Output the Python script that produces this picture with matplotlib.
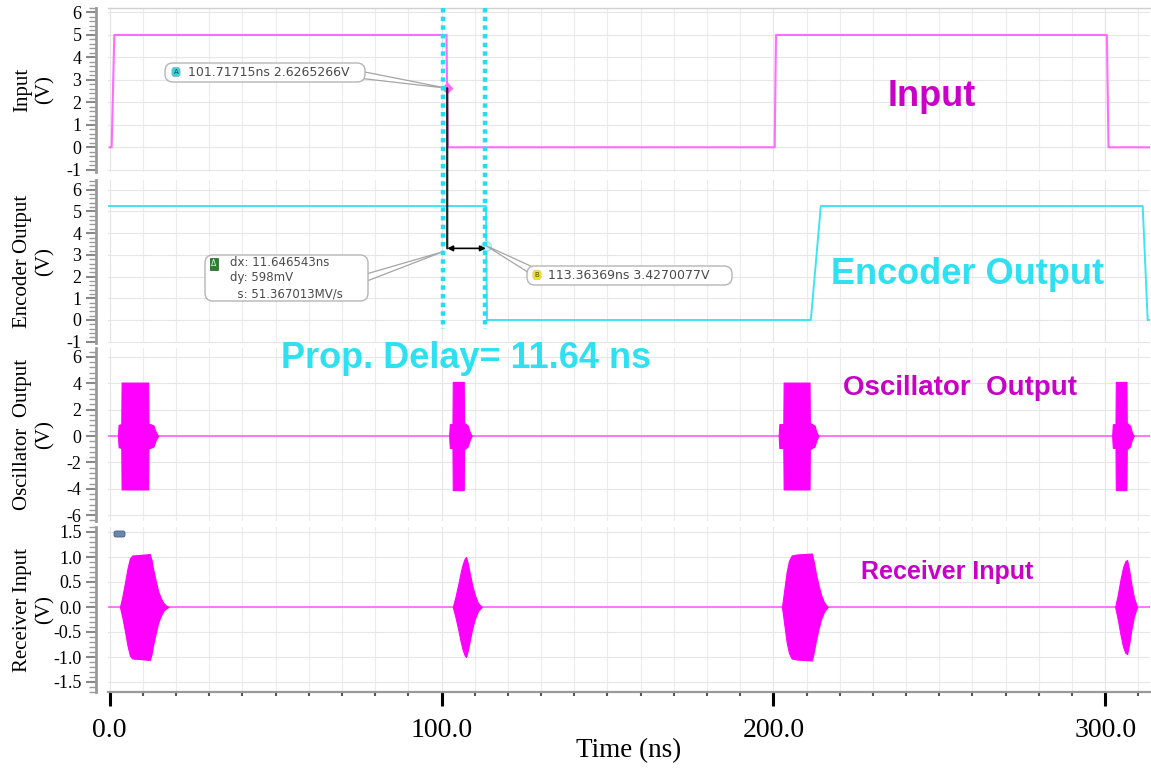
import matplotlib
matplotlib.use("Agg")
import matplotlib.pyplot as plt
from matplotlib.ticker import MultipleLocator, FormatStrFormatter
from matplotlib.patches import ConnectionPatch, FancyBboxPatch
from matplotlib.lines import Line2D
import matplotlib.transforms as mtransforms

plt.rcParams["font.family"] = ["Liberation Serif", "DejaVu Serif"]

# ---------------- data ----------------
x_ticks = [0.0, 100.0, 200.0, 300.0]

input_t = [0.0, 0.6, 1.4, 101.5, 101.9, 200.4, 200.8, 300.5, 301.0, 314.0]
input_v = [0.0, 0.0, 5.0, 5.0, 0.0, 0.0, 5.0, 5.0, 0.0, 0.0]

enc_t = [-1.0, 113.4, 113.7, 211.3, 214.3, 311.3, 312.8, 314.0]
enc_v = [5.25, 5.25, 0.0, 0.0, 5.25, 5.25, 0.0, 0.0]

osc_baseline = 0.0
osc_b1_t = [2.5, 2.7, 3.5, 3.6, 11.6, 11.7, 13.2, 13.9, 14.6]
osc_b1_a = [0.0, 0.85, 0.9, 4.05, 4.05, 0.95, 0.8, 0.3, 0.0]
osc_b2_t = [102.3, 102.5, 103.3, 103.4, 106.7, 106.8, 107.9, 108.5, 109.1]
osc_b2_a = [0.0, 0.9, 0.9, 4.1, 4.1, 1.0, 0.8, 0.3, 0.0]
osc_b3_t = [201.6, 201.8, 203.0, 203.1, 210.9, 211.0, 212.4, 213.0, 213.6]
osc_b3_a = [0.0, 0.9, 0.9, 4.05, 4.05, 1.0, 0.8, 0.3, 0.0]
osc_b4_t = [302.1, 302.3, 303.1, 303.2, 306.4, 306.5, 307.5, 308.0, 308.6]
osc_b4_a = [0.0, 0.9, 0.9, 4.1, 4.1, 1.0, 0.8, 0.3, 0.0]

rx_baseline = 0.0
rx_b1_t = [3.1, 3.8, 4.6, 5.4, 6.1, 6.8, 9.0, 12.1, 12.6, 13.1, 13.9, 14.6, 15.4, 16.2, 17.0, 17.7]
rx_b1_a = [0.0, 0.2, 0.48, 0.78, 0.97, 1.03, 1.04, 1.06, 0.95, 0.76, 0.52, 0.32, 0.18, 0.08, 0.03, 0.0]
rx_b2_t = [103.4, 104.2, 105.1, 105.8, 106.4, 107.0, 107.4, 107.9, 108.6, 109.3, 110.1, 111.0, 112.1]
rx_b2_a = [0.0, 0.2, 0.47, 0.7, 0.86, 0.97, 1.0, 0.88, 0.65, 0.42, 0.23, 0.08, 0.0]
rx_b3_t = [202.6, 203.3, 204.0, 204.7, 205.5, 207.0, 211.6, 212.2, 212.8, 213.6, 214.4, 215.3, 216.4]
rx_b3_a = [0.0, 0.35, 0.7, 0.92, 1.03, 1.05, 1.07, 0.9, 0.68, 0.44, 0.24, 0.09, 0.0]
rx_b4_t = [303.0, 303.8, 304.6, 305.4, 306.1, 306.6, 307.2, 307.9, 308.7, 309.6]
rx_b4_a = [0.0, 0.25, 0.55, 0.8, 0.92, 0.94, 0.75, 0.45, 0.18, 0.0]

marker_a = (101.71715, 2.6265266)
marker_b = (113.36369, 3.4270077)
delta_arrow_v = 3.3
cursor_t = [100.5, 113.2]

label_a = "101.71715ns 2.6265266V"
label_b = "113.36369ns 3.4270077V"
label_delta = "dx: 11.646543ns\ndy: 598mV\n  s: 51.367013MV/s"

# ---------------- styling ----------------
W, H = 1151, 771
PINK_LINE = "#ff6cff"
MAGENTA = "#ff00ff"
TXT_MAG = "#c800c8"
CYAN = "#3fe3f2"
CYAN_TXT = "#2ee0f0"

fig = plt.figure(figsize=(W / 100, H / 100), dpi=100)
# transform working in image pixels measured from the top-left corner
PIX = mtransforms.Affine2D().scale(1 / 100.0, -1 / 100.0).translate(0, H / 100.0) + fig.dpi_scale_trans


def px_rect(top, bottom, left=108, right=1150):
    return [left / W, (H - bottom) / H, (right - left) / W, (bottom - top) / H]


ax1 = fig.add_axes(px_rect(8, 172))
ax2 = fig.add_axes(px_rect(180, 343), sharex=ax1)
ax3 = fig.add_axes(px_rect(348, 521), sharex=ax1)
ax4 = fig.add_axes(px_rect(527, 692), sharex=ax1)
axes = [ax1, ax2, ax3, ax4]

ax1.set_ylim(-1.1, 6.2)
ax2.set_ylim(-1.06, 6.45)
ax3.set_ylim(-6.44, 6.67)
ax4.set_ylim(-1.7, 1.6)
ax1.set_xlim(-0.5, 313.5)

ylabels = ["Input\n(V)", "Encoder Output\n(V)", "Oscillator  Output\n(V)", "Receiver Input\n(V)"]
ymin = [0.2, 0.2, 0.4, 0.1]
yfmt = ["%d", "%d", "%d", "%.1f"]
yticks_list = [
    [-1, 0, 1, 2, 3, 4, 5, 6],
    [-1, 0, 1, 2, 3, 4, 5, 6],
    [-6, -4, -2, 0, 2, 4, 6],
    [-1.5, -1.0, -0.5, 0.0, 0.5, 1.0, 1.5],
]

for i, ax in enumerate(axes):
    ax.set_facecolor("white")
    for s in ["top", "right", "bottom"]:
        ax.spines[s].set_visible(False)
    ax.spines["left"].set_position(("outward", 9))
    ax.spines["left"].set_color("#9a9a9a")
    ax.spines["left"].set_linewidth(2.0)
    ax.set_yticks(yticks_list[i])
    ax.yaxis.set_minor_locator(MultipleLocator(ymin[i]))
    ax.yaxis.set_major_formatter(FormatStrFormatter(yfmt[i]))
    ax.tick_params(axis="y", which="major", length=7, width=1.5, color="#8a8a8a",
                   direction="out", pad=3, labelsize=13)
    ax.tick_params(axis="y", which="minor", length=5, width=1.0, color="#9a9a9a",
                   direction="out")
    ax.xaxis.set_major_locator(MultipleLocator(100))
    ax.xaxis.set_minor_locator(MultipleLocator(10))
    ax.grid(which="major", color="#e6e6e6", lw=0.8)
    ax.grid(which="minor", axis="x", color="#ececec", lw=0.8)
    ax.set_axisbelow(True)
    ax.set_ylabel(ylabels[i], fontsize=15, linespacing=1.2, ha="center", va="center")
    ax.yaxis.set_label_coords(-0.071, 0.5)
    if i < 3:
        ax.tick_params(axis="x", which="both", length=0, labelbottom=False)

ax1.spines["top"].set_visible(True)
ax1.spines["top"].set_color("#d0d0d0")
ax1.spines["top"].set_linewidth(1.0)

ax4.spines["bottom"].set_visible(True)
ax4.spines["bottom"].set_color("#9a9a9a")
ax4.spines["bottom"].set_linewidth(1.6)
ax4.set_xticks(x_ticks)
ax4.xaxis.set_major_formatter(FormatStrFormatter("%.1f"))
ax4.tick_params(axis="x", which="major", length=10, width=2.2, color="black",
                direction="out", pad=9, labelsize=20)
ax4.tick_params(axis="x", which="minor", length=3, width=1.5, color="#555555",
                direction="out")
ax4.set_xlabel("Time (ns)", fontsize=19.5, labelpad=-4)

# ---------------- waveforms ----------------
ax1.plot(input_t, input_v, color=PINK_LINE, lw=1.5, zorder=3)
ax2.plot(enc_t, enc_v, color=CYAN, lw=1.4, zorder=3)

ax3.axhline(osc_baseline, color=PINK_LINE, lw=1.3, zorder=2)
for t, a in [(osc_b1_t, osc_b1_a), (osc_b2_t, osc_b2_a), (osc_b3_t, osc_b3_a), (osc_b4_t, osc_b4_a)]:
    ax3.fill_between(t, a, [-v for v in a], color=MAGENTA, lw=0.8, zorder=3)

ax4.axhline(rx_baseline, color=PINK_LINE, lw=1.3, zorder=2)
for t, a in [(rx_b1_t, rx_b1_a), (rx_b2_t, rx_b2_a), (rx_b3_t, rx_b3_a), (rx_b4_t, rx_b4_a)]:
    ax4.fill_between(t, a, [-v for v in a], color=MAGENTA, lw=0.8, zorder=3)

# ---------------- cursors & markers ----------------
blend = mtransforms.blended_transform_factory(ax1.transData, fig.transFigure)
for ct in cursor_t:
    fig.add_artist(Line2D([ct, ct], [(H - 8) / H, (H - 329) / H], transform=blend,
                          color="#1fe0f2", lw=3.2, linestyle=(0, (1.0, 0.95)), zorder=5))

con = ConnectionPatch(xyA=marker_a, coordsA=ax1.transData,
                      xyB=(marker_a[0], delta_arrow_v), coordsB=ax2.transData,
                      color="#222222", lw=1.6, zorder=6)
fig.add_artist(con)
ax1.plot([marker_a[0]], [marker_a[1]], marker="D", ms=5, color="#ff66ff", zorder=7)
ax2.plot([marker_b[0]], [marker_b[1]], marker="o", ms=7, mfc="#c8f4f8", mec="#9fe8f0", zorder=7)
ax2.annotate("", xy=(marker_b[0], delta_arrow_v), xytext=(marker_a[0], delta_arrow_v),
             arrowprops=dict(arrowstyle="<|-|>", color="black", lw=1.2,
                             mutation_scale=8, shrinkA=0, shrinkB=0), zorder=7)

wedge_kw = dict(arrowstyle="wedge,tail_width=0.5,shrink_factor=0.5", fc="white",
                ec="#a5a5a5", lw=0.9, shrinkA=0, shrinkB=0)
small = dict(fontsize=9, family="DejaVu Sans", color="#4a4a4a")


def callout_box(x0, y0, x1, y1):
    fig.add_artist(FancyBboxPatch((x0, y0), x1 - x0, y1 - y0,
                                  boxstyle="round,pad=0,rounding_size=8",
                                  fc="white", ec="#b5b5b5", lw=1.0,
                                  transform=PIX, zorder=8))


# A marker callout
ax1.annotate("", xy=marker_a, xycoords="data", xytext=(362, H - 75),
             textcoords="figure pixels", arrowprops=wedge_kw, zorder=7)
callout_box(165, 63, 365, 82)
fig.text(188, 72.5, label_a, transform=PIX, ha="left", va="center", zorder=9, **small)

# B marker callout
ax2.annotate("", xy=marker_b, xycoords="data", xytext=(531, H - 270),
             textcoords="figure pixels", arrowprops=wedge_kw, zorder=7)
callout_box(527, 266, 732, 285)
fig.text(548, 275.5, label_b, transform=PIX, ha="left", va="center", zorder=9, **small)

# delta callout
ax2.annotate("", xy=(marker_a[0] - 1.2, delta_arrow_v - 0.15), xycoords="data",
             xytext=(365, H - 278), textcoords="figure pixels", arrowprops=wedge_kw, zorder=7)
callout_box(205, 255, 368, 301)
fig.text(230, 278, label_delta, transform=PIX, ha="left", va="center", linespacing=1.3,
         zorder=9, fontsize=8.5, family="DejaVu Sans", color="#4a4a4a")

# small marker icons
fig.text(176, 72, "A", transform=PIX, fontsize=5, family="DejaVu Sans", color="#114444",
         ha="center", va="center", zorder=20,
         bbox=dict(boxstyle="round,pad=0.25,rounding_size=0.4", fc="#2fd6d6", ec="#9ad", lw=0.5))
fig.text(537, 275, "B", transform=PIX, fontsize=5, family="DejaVu Sans", color="#444400",
         ha="center", va="center", zorder=20,
         bbox=dict(boxstyle="round,pad=0.25,rounding_size=0.4", fc="#f4e21a", ec="#cc9", lw=0.5))
fig.text(214, 264, "Δ", transform=PIX, fontsize=5.5, family="DejaVu Sans", color="#ccffcc",
         ha="center", va="center", zorder=20,
         bbox=dict(boxstyle="square,pad=0.2", fc="#2e7d32", ec="#1b5e20", lw=0.5))
fig.add_artist(FancyBboxPatch((114, 531), 11, 6, boxstyle="round,pad=0,rounding_size=2",
                              fc="#6c86aa", ec="#445f88", lw=0.6, transform=PIX, zorder=20))

# ---------------- big labels ----------------
bold = dict(family=["Liberation Sans", "DejaVu Sans"], weight="bold", ha="center", va="center")
fig.text(932 / W, (H - 97) / H, "Input", fontsize=26, color=TXT_MAG, **bold)
fig.text(968 / W, (H - 275) / H, "Encoder Output", fontsize=26, color=CYAN_TXT, **bold)
fig.text(466 / W, (H - 358) / H, "Prop. Delay= 11.64 ns", fontsize=26, color=CYAN_TXT, **bold)
fig.text(960 / W, (H - 388) / H, "Oscillator  Output", fontsize=20, color=TXT_MAG, **bold)
fig.text(947 / W, (H - 572) / H, "Receiver Input", fontsize=18, color=TXT_MAG, **bold)

fig.savefig("out.png", dpi=100, facecolor="white")
